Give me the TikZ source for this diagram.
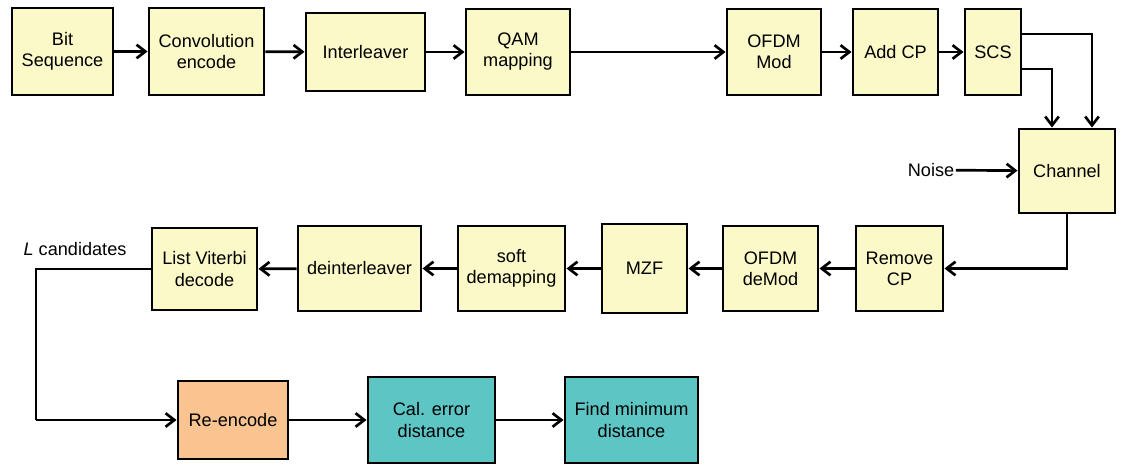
\documentclass[tikz,border=0pt]{standalone}
\usepackage{fontspec}
\setmainfont{Liberation Sans}
\usepackage{tikz}
\usetikzlibrary{arrows.meta}

\definecolor{amarillo}{RGB}{252,249,200}
\definecolor{naranja}{RGB}{249,196,143}
\definecolor{turquesa}{RGB}{94,197,197}

\begin{document}
\begin{tikzpicture}[
    bloque/.style={draw, line width=2.1pt, fill=amarillo, align=center,
      inner sep=0pt, font=\fontsize{12.9}{15}\selectfont},
    texto/.style={align=center, font=\fontsize{12.9}{15}\selectfont},
    flecha/.style={line width=1.9pt, -{Straight Barb[length=2.2mm,width=3.4mm]}},
    linea/.style={line width=1.9pt}]
    \useasboundingbox (0,0) rectangle (28.025,-11.6);

    % Fila de arriba (transmisor)
    \node[bloque, minimum width=2.525cm, minimum height=2.175cm] (bit) at (1.5625,-1.2875) {Bit\\Sequence};
    \node[bloque, minimum width=2.875cm, minimum height=2.175cm] (conv) at (5.1625,-1.2875) {Convolution\\encode};
    \node[bloque, minimum width=2.975cm, minimum height=1.95cm] (inter) at (9.1375,-1.3) {Interleaver};
    \node[bloque, minimum width=2.6cm, minimum height=2.15cm] (qam) at (12.95,-1.3) {QAM\\mapping};
    \node[bloque, minimum width=2.35cm, minimum height=2.15cm] (ofdm) at (19.35,-1.3) {OFDM\\Mod};
    \node[bloque, minimum width=2.125cm, minimum height=2.15cm] (addcp) at (22.3875,-1.3) {Add CP};
    \node[bloque, minimum width=1.4cm, minimum height=2.15cm] (scs) at (24.825,-1.3) {SCS};

    % Canal y ruido
    \node[bloque, minimum width=2.4cm, minimum height=2.1cm] (channel) at (26.675,-4.275) {Channel};
    \node[texto, inner sep=1pt] (noise) at (23.275,-4.25) {Noise};

    % Fila del medio (receptor)
    \node[bloque, minimum width=2.175cm, minimum height=2.125cm] (removecp) at (22.4875,-6.7125) {Remove\\CP};
    \node[bloque, minimum width=2.375cm, minimum height=2.125cm] (ofdmde) at (19.2625,-6.7125) {OFDM\\deMod};
    \node[bloque, minimum width=2.125cm, minimum height=2.225cm] (mzf) at (16.1125,-6.7125) {MZF};
    \node[bloque, minimum width=2.675cm, minimum height=2.125cm] (soft) at (12.7875,-6.7125) {soft\\demapping};
    \node[bloque, minimum width=3.075cm, minimum height=2.125cm] (deint) at (8.9875,-6.7125) {deinterleaver};
    \node[bloque, minimum width=2.625cm, minimum height=2.05cm] (viterbi) at (5.1125,-6.725) {List Viterbi\\decode};
    \node[texto] (cand) at (1.875,-6.225) {\textit{L} candidates};

    % Fila de abajo
    \node[bloque, fill=naranja, minimum width=2.75cm, minimum height=1.95cm] (reenc) at (5.825,-10.5) {Re-encode};
    \node[bloque, fill=turquesa, minimum width=3.175cm, minimum height=2.15cm] (calerr) at (10.7875,-10.5) {Cal. error\\distance};
    \node[bloque, fill=turquesa, minimum width=3.325cm, minimum height=2.15cm] (findmin) at (15.7875,-10.5) {Find minimum\\distance};

    % Flechas de arriba
    \draw[flecha] (bit) -- (conv);
    \draw[flecha] (conv) -- (inter);
    \draw[flecha] (inter) -- (qam);
    \draw[flecha] (qam) -- (ofdm);
    \draw[flecha] (ofdm) -- (addcp);
    \draw[flecha] (addcp) -- (scs);
    \draw[flecha] (scs.east |- 0,-0.85) -| (27.3,0 |- channel.north);
    \draw[flecha] (scs.east |- 0,-1.725) -| (26.3,0 |- channel.north);
    \draw[flecha] (noise) -- (channel);

    % Flechas del receptor
    \draw[flecha] (channel.south) |- (removecp);
    \draw[flecha] (removecp) -- (ofdmde);
    \draw[flecha] (ofdmde) -- (mzf);
    \draw[flecha] (mzf) -- (soft);
    \draw[flecha] (soft) -- (deint);
    \draw[flecha] (deint) -- (viterbi);
    \draw[linea] (viterbi.west) -- (0.9,0 |- viterbi.west) -- (0.9,0 |- reenc.west);
    \draw[flecha] (0.9,0 |- reenc.west) -- (reenc.west);
    \draw[flecha] (reenc) -- (calerr);
    \draw[flecha] (calerr) -- (findmin);
\end{tikzpicture}
\end{document}
